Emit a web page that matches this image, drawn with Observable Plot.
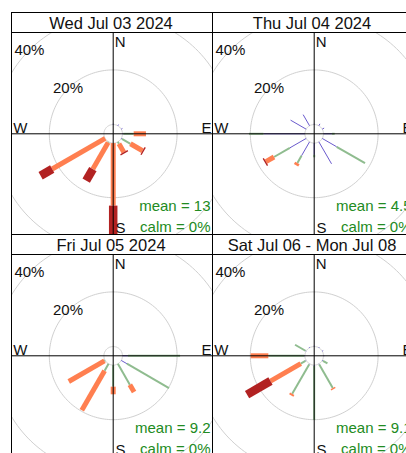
<!DOCTYPE html>
<html><head><meta charset="utf-8">
<script src="https://cdn.jsdelivr.net/npm/d3@7"></script>
<script src="https://cdn.jsdelivr.net/npm/@observablehq/plot@0.6"></script>
<style>
body{margin:0;background:#fff;font-family:"Liberation Sans",Arial,sans-serif;}
#chart{position:relative;width:406px;height:453px;overflow:hidden;background:#fff;}
.cell{position:absolute;width:202px;height:223px;}
.cell svg{max-width:none !important;}
.strip{position:absolute;box-sizing:border-box;height:21px;width:202px;border:1px solid #000;border-bottom:none;z-index:2;}
</style></head><body><div id="chart"></div>
<script>
// ---- data ----
const panelTitles = ["Wed Jul 03 2024", "Thu Jul 04 2024", "Fri Jul 05 2024", "Sat Jul 06 - Mon Jul 08"];
const meanLabels = ["mean = 13", "mean = 4.5", "mean = 9.2", "mean = 9.1"];
const calmLabels = ["calm = 0%", "calm = 0%", "calm = 0%", "calm = 0%"];
const directions = [0, 30, 60, 90, 120, 150, 180, 210, 240, 270, 300, 330];
const speedBins = ["0 to 2", "2 to 4", "4 to 6", "6 to 17"];
const gridLevels = [20, 40];
// frequency (%) per speed bin (rows) and direction (columns)
const freqWed = [
  [0.3, 0.5, 0.5, 0.3, 0.3, 0,   0,    0,    0,    0, 0, 0],
  [0,   0,   0,   3.8, 3.6, 0.8, 0,    0.3,  0,    0, 0, 0],
  [0,   0,   0,   4.5, 5.1, 3.6, 22.9, 11.2, 22.4, 0, 0, 0],
  [0,   0,   0,   0,   0.5, 0.5, 11.1, 4.9,  4.9,  0, 0, 0]
];
const freqThu = [
  [0.3, 0.8, 0.8, 3.1, 6.1,  9.3, 4.3, 5.9, 6.9, 15.2, 6.6, 4.7],
  [0,   0,   0,   1.0, 12.0, 0,   0.9, 3.0, 6.7, 5.3,  0,   0],
  [0,   0,   0,   0,   0,    0,   0,   1.0, 3.4, 0,    0,   0],
  [0,   0,   0,   0,   0,    0,   0,   0,   0.5, 0,    0,   0]
];
const freqFri = [
  [0, 0, 0, 2.0,  2.4,  0,   0,   0,    0,    0, 0, 0],
  [0, 0, 0, 19.1, 17.8, 8.8, 7.9, 2.9,  0.3,  0, 0, 0],
  [0, 0, 0, 0,    0,    3.1, 2.8, 16.7, 15.1, 0, 0, 0],
  [0, 0, 0, 0,    0,    0,   0,   0,    0,    0, 0, 0]
];
const freqSat = [
  [0.3, 0.3, 0.4, 0.3, 0.3, 0.3, 0.3,  0.3,  0.3,  0.3,  0.3, 0.3],
  [0,   0,   0,   0,   1.9, 9.9, 19.8, 12.4, 2.0,  13.1, 4.4, 0],
  [0,   0,   0,   0,   0,   0.5, 0,    0.7,  12.8, 6.5,  0,   0],
  [0,   0,   0,   0,   0,   0,   0,    0,    9.9,  0,    0,   0]
];
const panelFreqs = [freqWed, freqThu, freqFri, freqSat];

// ---- styles / layout ----
const binColors = ["#6A5ACD", "#8FBC8F", "#FF7F50", "#B22222"];
const binWidths = [1, 2, 5, 8.5];
const K = 2.73;            // px per percent
const OFFSET = 3.4;        // calm circle radius (percent units)
const X_DOMAIN = [-101.7 / K, 99.3 / K];
const Y_DOMAIN = [-100.7 / K, 101.3 / K];
const cells = [[11, 12], [212, 12], [11, 234], [212, 234]];
const FONT = '"Liberation Sans", Arial, Helvetica, sans-serif';
const rad = d => d * Math.PI / 180;

function rose(i) {
  const freq = panelFreqs[i];
  const segs = [];
  directions.forEach((dir, j) => {
    let cum = 0;
    speedBins.forEach((bin, b) => {
      const v = freq[b][j];
      if (v > 0) segs.push({dir, bin, b, r0: cum + OFFSET, r1: cum + v + OFFSET});
      cum += v;
    });
  });
  const rings = [{level: "calm", r: OFFSET}, ...gridLevels.map(g => ({level: g, r: g + OFFSET}))];
  const ringPts = rings.flatMap(ring => d3.range(0, 361, 2).map(a => ({
    level: String(ring.level), x: ring.r * Math.sin(rad(a)), y: ring.r * Math.cos(rad(a))
  })));
  const txt = {fill: "#111", fontSize: 15, lineAnchor: "bottom"};
  return Plot.plot({
    width: 202, height: 223,
    marginTop: 20, marginBottom: 1, marginLeft: 0, marginRight: 1,
    x: {domain: X_DOMAIN, axis: null},
    y: {domain: Y_DOMAIN, axis: null},
    color: {domain: speedBins, range: binColors},
    style: {fontFamily: FONT, background: "transparent", overflow: "visible", maxWidth: "none"},
    marks: [
      Plot.line(ringPts, {x: "x", y: "y", z: "level", stroke: "#d0d0d0", strokeWidth: 1, clip: true}),
      ...speedBins.map((bin, b) => Plot.link(segs.filter(s => s.b === b), {
        x1: s => s.r0 * Math.sin(rad(s.dir)), y1: s => s.r0 * Math.cos(rad(s.dir)),
        x2: s => s.r1 * Math.sin(rad(s.dir)), y2: s => s.r1 * Math.cos(rad(s.dir)),
        stroke: "bin", strokeWidth: binWidths[b], clip: true
      })),
      Plot.ruleX([0], {stroke: "black"}),
      Plot.ruleY([0], {stroke: "black"}),
      Plot.frame({stroke: "black"}),
      Plot.text(gridLevels, {
        x: g => -(g + OFFSET) * Math.sin(rad(45)), y: g => (g + OFFSET) * Math.cos(rad(45)),
        text: g => g + "%", fill: "#111", fontSize: 15, lineAnchor: "middle"
      }),
      Plot.text(["N"], {...txt, x: [0], frameAnchor: "top", textAnchor: "start", dx: 1.5, dy: 14.5}),
      Plot.text(["S"], {...txt, x: [0], frameAnchor: "bottom", textAnchor: "start", dx: 2.3, dy: -2}),
      Plot.text(["W"], {...txt, y: [0], frameAnchor: "left", textAnchor: "start", dx: 1.7, dy: -1.3}),
      Plot.text(["E"], {...txt, y: [0], frameAnchor: "right", textAnchor: "end", dx: -1, dy: -1.3}),
      Plot.text([meanLabels[i]], {fill: "forestgreen", fontSize: 15, lineAnchor: "bottom", frameAnchor: "bottom-right", textAnchor: "end", dx: -2, dy: -24}),
      Plot.text([calmLabels[i]], {fill: "forestgreen", fontSize: 15, lineAnchor: "bottom", frameAnchor: "bottom-right", textAnchor: "end", dx: -2, dy: -2.5}),
      Plot.text([panelTitles[i]], {fill: "#111", fontSize: 16.5, frameAnchor: "top", lineAnchor: "bottom", dx: -1, dy: -4})
    ]
  });
}

const chart = document.getElementById("chart");
panelTitles.forEach((t, i) => {
  const [L, T] = cells[i];
  const cell = document.createElement("div");
  cell.className = "cell";
  cell.style.left = L + "px";
  cell.style.top = T + "px";
  cell.appendChild(rose(i));
  chart.appendChild(cell);
});
panelTitles.forEach((t, i) => {
  const [L, T] = cells[i];
  const strip = document.createElement("div");
  strip.className = "strip";
  strip.style.left = L + "px";
  strip.style.top = T + "px";
  chart.appendChild(strip);
});
</script></body></html>
